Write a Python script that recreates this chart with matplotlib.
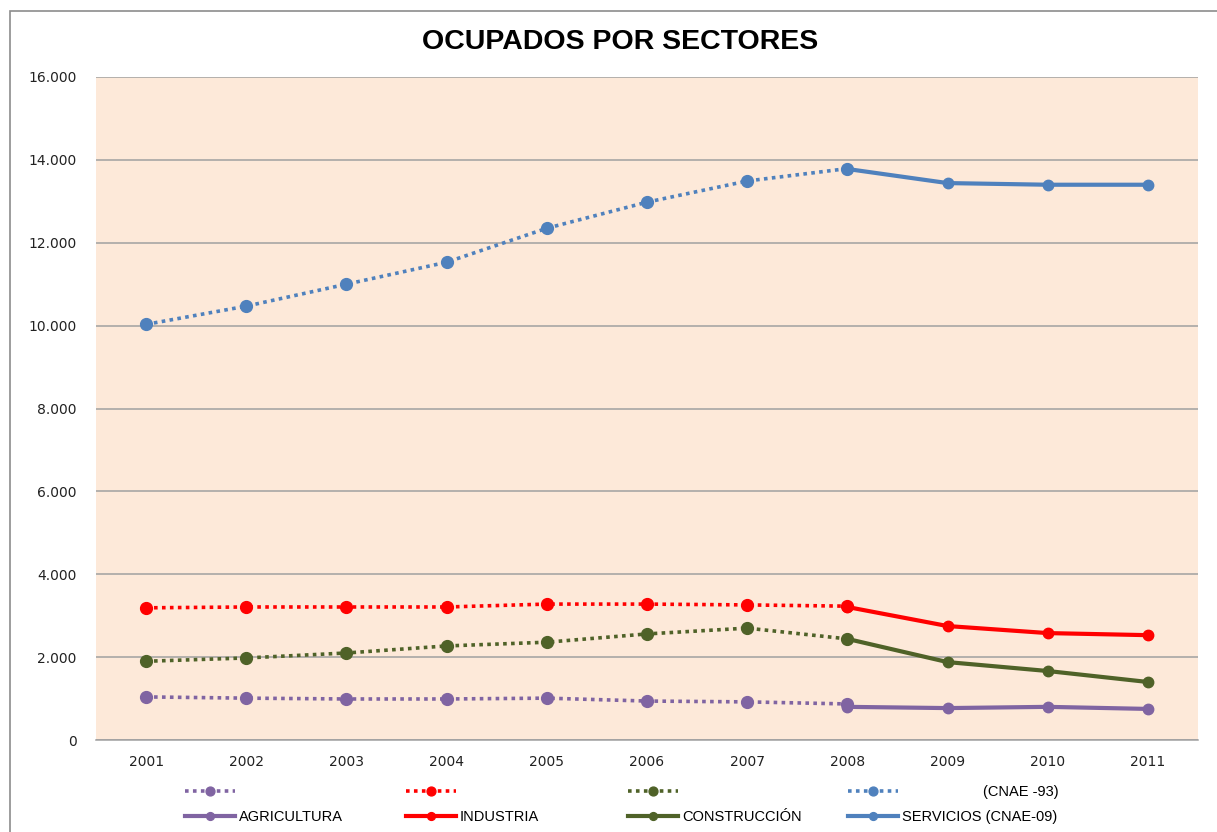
import matplotlib.pyplot as plt
import numpy as np
from matplotlib.ticker import FuncFormatter
from matplotlib.patches import Rectangle

years = ["2001", "2002", "2003", "2004", "2005", "2006", "2007", "2008", "2009", "2010", "2011"]
nan = np.nan

# CNAE-93 (2001-2008), CNAE-09 (2008-2011)
agri_93 = [1040, 1010, 990, 990, 1010, 940, 920, 870, nan, nan, nan]
agri_09 = [nan, nan, nan, nan, nan, nan, nan, 800, 770, 800, 750]
ind_93 = [3190, 3210, 3210, 3210, 3280, 3280, 3260, 3230, nan, nan, nan]
ind_09 = [nan, nan, nan, nan, nan, nan, nan, 3210, 2750, 2580, 2530]
cons_93 = [1900, 1980, 2100, 2270, 2360, 2560, 2700, 2440, nan, nan, nan]
cons_09 = [nan, nan, nan, nan, nan, nan, nan, 2440, 1880, 1665, 1400]
serv_93 = [10030, 10470, 11000, 11530, 12350, 12980, 13490, 13790, nan, nan, nan]
serv_09 = [nan, nan, nan, nan, nan, nan, nan, 13780, 13440, 13400, 13400]

labels_09 = ["AGRICULTURA", "INDUSTRIA", "CONSTRUCCIÓN", "SERVICIOS (CNAE-09)"]
colors = ["#8064A2", "#FF0000", "#4F6228", "#4F81BD"]

plt.rcParams['font.family'] = ['Liberation Sans', 'DejaVu Sans']

fig = plt.figure(figsize=(12.17, 8.32), dpi=100)
fig.patches.append(Rectangle((10 / 1217, -0.1), 1.1, 1 - 11 / 832 + 0.1, transform=fig.transFigure,
                             fill=False, edgecolor="#8c8c8c", linewidth=1.2))
ax = fig.add_axes([96 / 1217, 92 / 832, 1102 / 1217, 663 / 832])
ax.set_facecolor("#FDE9D9")

x = np.arange(len(years))
pairs = []
for s93, s09, c in zip([agri_93, ind_93, cons_93, serv_93],
                       [agri_09, ind_09, cons_09, serv_09], colors):
    h1, = ax.plot(x, s93, linestyle=(0, (1, 1.2)), linewidth=2.6, color=c,
                  marker="o", markersize=8.5, zorder=3)
    h2, = ax.plot(x, s09, linestyle="-", linewidth=3, color=c,
                  marker="o", markersize=7.5, zorder=3)
    pairs.append((h1, h2))

ax.set_xlim(-0.5, len(years) - 0.5)
ax.set_ylim(0, 16000)
ax.set_yticks(np.arange(0, 16001, 2000))
ax.yaxis.set_major_formatter(FuncFormatter(lambda v, p: f"{int(v):,}".replace(",", ".")))
ax.set_xticks(x)
ax.set_xticklabels(years)
ax.tick_params(axis="both", length=0, labelsize=10, colors="#222222")
for lab in ax.get_xticklabels() + ax.get_yticklabels():
    lab.set_family("DejaVu Sans")
ax.tick_params(axis="y", pad=14)
ax.tick_params(axis="x", pad=11)
ax.grid(axis="y", color="#a0a0a0", linewidth=1.1)
ax.set_axisbelow(True)
for side in ["left", "right", "top"]:
    ax.spines[side].set_visible(False)
ax.spines["bottom"].set_color("#a0a0a0")
ax.spines["bottom"].set_linewidth(1.1)

fig.text(620 / 1217, 1 - 42 / 832, "OCUPADOS POR SECTORES", ha="center", va="center",
         fontsize=20.5, fontweight="bold")

# legend: one small legend per column
col_x = [185, 406, 628, 848]
for (h1, h2), lab, cx in zip(pairs, labels_09, col_x):
    leg = fig.legend(handles=[h1, h2], labels=["", lab], loc="center left",
                     bbox_to_anchor=(cx / 1217, 1 - 805 / 832), frameon=False,
                     fontsize=10.5, handlelength=3.4, handletextpad=0.3,
                     labelspacing=0.75, borderpad=0, borderaxespad=0, markerscale=0.75)
fig.text(983 / 1217, 1 - 792 / 832, "(CNAE -93)", ha="left", va="center", fontsize=10.5)

fig.savefig("out.png", dpi=100)
